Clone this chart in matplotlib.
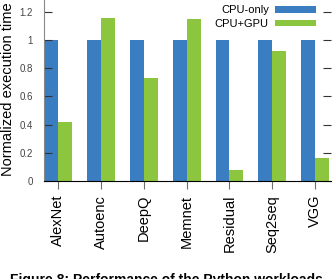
import matplotlib
matplotlib.use("Agg")
import matplotlib.pyplot as plt
import numpy as np

plt.rcParams['font.family'] = ['Liberation Sans', 'DejaVu Sans']

# workloads and normalized times
workloads = ["AlexNet", "Autoenc", "DeepQ", "Memnet", "Residual", "Seq2seq", "VGG"]
cpu_only = [1.0, 1.0, 1.0, 1.0, 1.0, 1.0, 1.0]
cpu_gpu = [0.42, 1.155, 0.73, 1.15, 0.078, 0.92, 0.165]
yticks = [0, 0.2, 0.4, 0.6, 0.8, 1, 1.2]
ytick_labels = ["0", "0.2", "0.4", "0.6", "0.8", "1", "1.2"]

blue = "#3b7dc1"
green = "#8cc63e"
grey = "#6e6e6e"

fig = plt.figure(figsize=(3.32, 2.79), dpi=100)
ax = fig.add_axes([44/332, 98/279, 287/332, 181/279])

x = np.arange(len(workloads))
w = 0.325
ax.bar(x - w/2, cpu_only, w, color=blue, label="CPU-only")
ax.bar(x + w/2, cpu_gpu, w, color=green, label="CPU+GPU")

ax.set_xlim(-0.33, 6.37)
ax.set_ylim(0, 1.284)
ax.set_xticks(x)
ax.set_xticklabels(workloads, rotation=90, fontsize=10.5)
ax.set_yticks(yticks)
ax.set_yticklabels(ytick_labels, fontsize=7, color="#444444")

ax.tick_params(axis='y', direction='in', length=6, width=0.8, color="#333333",
               right=True, pad=8)
ax.tick_params(axis='x', direction='out', length=6, width=0.8, color=grey, pad=4)

ax.spines['top'].set_visible(False)
ax.spines['right'].set_visible(False)
ax.spines['left'].set_color("#888888")
ax.spines['bottom'].set_color("black")

fig.text(8/332, 1 - 89/279, "Normalized execution time", rotation=90,
         ha='center', va='center', fontsize=10.5)

ax.legend(loc='upper right', bbox_to_anchor=(0.948, 0.97), frameon=False,
          markerfirst=False, fontsize=8, handlelength=3.7, handleheight=0.5,
          handletextpad=0.55, labelspacing=0.3, borderpad=0, borderaxespad=0)

# caption, cut off by the bottom edge as in the source image
fig.text(10/332, -8/279, "Figure 8: Performance of the Python workloads",
         ha='left', va='bottom', fontsize=10, fontweight='bold')

fig.savefig("out.png", dpi=100)
